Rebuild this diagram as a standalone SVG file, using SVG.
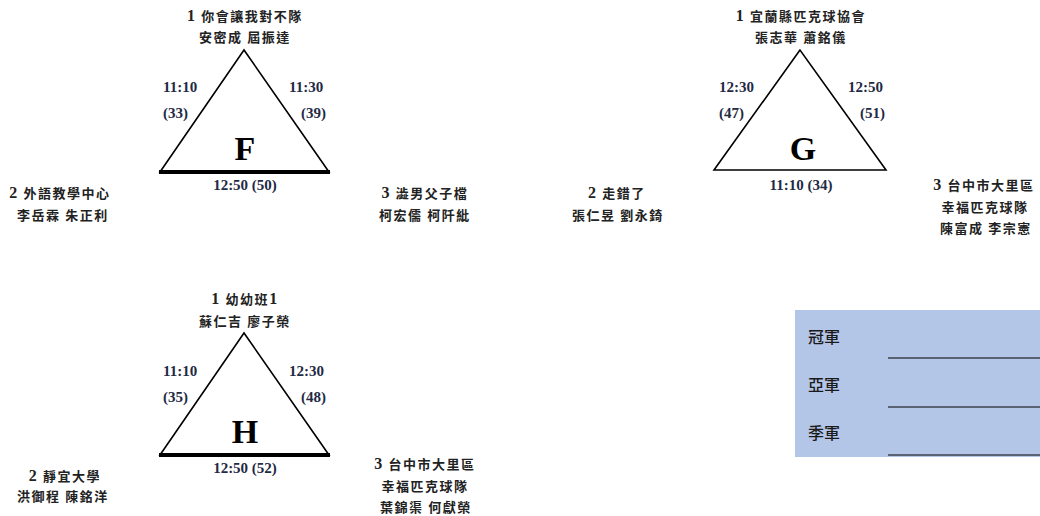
<svg xmlns="http://www.w3.org/2000/svg" width="1040" height="516" viewBox="0 0 1040 516">
<style>
.cj{font-family:"Liberation Serif","Noto Sans CJK TC",serif;font-size:13px;font-weight:bold;fill:#222;letter-spacing:1.5px;text-anchor:middle}
.n{font-size:16px}
.tm{font-family:"Liberation Serif",serif;font-size:15px;font-weight:bold;fill:#1f2a44}
.big{font-family:"Liberation Serif",serif;font-size:34px;font-weight:bold;fill:#000;text-anchor:middle}
.tri{fill:none;stroke:#000;stroke-width:1.6;stroke-linejoin:miter}
.base{stroke:#000;stroke-width:4}
.lbl{font-family:"Noto Sans CJK TC",sans-serif;font-size:16px;font-weight:500;fill:#1a1a1a}
.ul{stroke:#000;stroke-width:1}
</style>
<rect width="1040" height="516" fill="#fff"/>
<g id="connectors">
<polygon class="tri" points="244,50 160,172 329,172"/>
<line class="base" x1="159" y1="172" x2="330" y2="172"/>
<polygon class="tri" points="800,50 714,170 886,170"/>
<polygon class="tri" points="244,333 160,455 329,455"/>
<line class="base" x1="159" y1="455" x2="330" y2="455"/>
</g>
<g id="groupF">
<text class="big" x="245" y="160">F</text>
<text class="tm" x="163" y="92">11:10</text>
<text class="tm" x="163" y="118">(33)</text>
<text class="tm" x="289" y="92">11:30</text>
<text class="tm" x="301" y="118">(39)</text>
<text class="tm" x="245" y="190" text-anchor="middle">12:50 (50)</text>
</g>
<g id="F1"><text class="cj" x="245" y="21"><tspan class="n">1</tspan> 你會讓我對不隊</text><text class="cj" x="245" y="42">安密成 屆振達</text></g>
<g id="F2"><text class="cj" x="60" y="198"><tspan class="n">2</tspan> 外語教學中心</text><text class="cj" x="63" y="220">李岳霖 朱正利</text></g>
<g id="F3"><text class="cj" x="425" y="198"><tspan class="n">3</tspan> 澁男父子檔</text><text class="cj" x="425" y="220">柯宏儒 柯阡紕</text></g>
<g id="groupG">
<text class="big" x="803" y="160">G</text>
<text class="tm" x="719" y="92">12:30</text>
<text class="tm" x="719" y="118">(47)</text>
<text class="tm" x="848" y="92">12:50</text>
<text class="tm" x="860" y="118">(51)</text>
<text class="tm" x="801" y="190" text-anchor="middle">11:10 (34)</text>
</g>
<g id="G1"><text class="cj" x="801" y="21"><tspan class="n">1</tspan> 宜蘭縣匹克球協會</text><text class="cj" x="801" y="42">張志華 蕭銘儀</text></g>
<g id="G2"><text class="cj" x="617" y="198"><tspan class="n">2</tspan> 走錯了</text><text class="cj" x="618" y="220">張仁昱 劉永錡</text></g>
<g id="G3"><text class="cj" x="984" y="190"><tspan class="n">3</tspan> 台中市大里區</text><text class="cj" x="985" y="212">幸福匹克球隊</text><text class="cj" x="986" y="233">陳富成 李宗憲</text></g>
<g id="groupH">
<text class="big" x="245" y="443">H</text>
<text class="tm" x="163" y="376">11:10</text>
<text class="tm" x="163" y="402">(35)</text>
<text class="tm" x="289" y="376">12:30</text>
<text class="tm" x="301" y="402">(48)</text>
<text class="tm" x="245" y="473" text-anchor="middle">12:50 (52)</text>
</g>
<g id="H1"><text class="cj" x="245" y="304"><tspan class="n">1</tspan> 幼幼班<tspan class="n">1</tspan></text><text class="cj" x="245" y="326">蘇仁吉 廖子榮</text></g>
<g id="H2"><text class="cj" x="65" y="481"><tspan class="n">2</tspan> 靜宜大學</text><text class="cj" x="63" y="501">洪御程 陳銘洋</text></g>
<g id="H3"><text class="cj" x="425" y="469"><tspan class="n">3</tspan> 台中市大里區</text><text class="cj" x="425" y="491">幸福匹克球隊</text><text class="cj" x="426" y="512">葉錦渠 何獻榮</text></g>
<g id="podium">
<rect x="795" y="310" width="245" height="147" fill="#b4c6e7"/>
<text class="lbl" x="808" y="343">冠軍</text>
<text class="lbl" x="808" y="391">亞軍</text>
<text class="lbl" x="808" y="439">季軍</text>
<line class="ul" x1="888" y1="358" x2="1040" y2="358"/>
<line class="ul" x1="888" y1="407" x2="1040" y2="407"/>
<line class="ul" x1="888" y1="455" x2="1040" y2="455"/>
</g>
</svg>
